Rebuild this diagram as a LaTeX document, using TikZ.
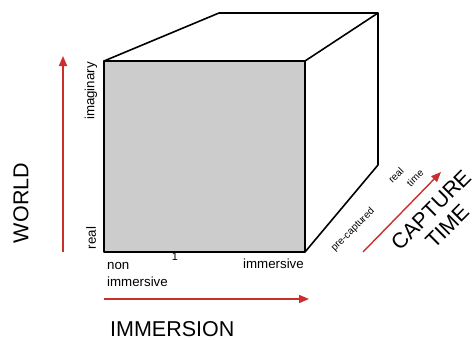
\documentclass[tikz,border=0pt]{standalone}
\usepackage{fontspec}
\setmainfont{Liberation Sans}
\usetikzlibrary{arrows.meta}
\definecolor{axisred}{RGB}{204,45,45}
\definecolor{facegray}{RGB}{204,204,204}
\begin{document}
\begin{tikzpicture}[x=1pt,y=-1pt,
  edge/.style={line width=1.6pt, line join=round},
  axis/.style={draw=axisred, line width=1.4pt, -{Triangle[length=10pt,width=8pt]}},
  big/.style={font=\fontsize{21.5}{23}\selectfont, inner sep=0pt},
  small/.style={font=\fontsize{13.3}{15}\selectfont, inner sep=0pt},
  tiny/.style={font=\fontsize{10}{11}\selectfont, inner sep=0pt}]
\useasboundingbox (0,0) rectangle (475,340);
% cube corners
\coordinate (A) at (104,61);
\coordinate (B) at (305,61);
\coordinate (C) at (305,252);
\coordinate (D) at (104,252);
\coordinate (E) at (219,13);
\coordinate (F) at (378,13);
\coordinate (G) at (378,165);
\fill[white] (A) -- (E) -- (F) -- (G) -- (C) -- (B) -- cycle;
\draw[edge, fill=facegray] (A) rectangle (C);
\draw[edge] (A) -- (E) -- (F) -- (B);
\draw[edge] (F) -- (G) -- (C);
% axes
\coordinate (w0) at (63,252);
\coordinate (w1) at (63,56);
\draw[axis] (w0) -- (w1);
\coordinate (i0) at (104,299);
\coordinate (i1) at (309,299);
\draw[axis] (i0) -- (i1);
\coordinate (c0) at (363,252);
\coordinate (c1) at (441,172);
\draw[axis] (c0) -- (c1);
% labels
\node[big, rotate=90] (world) at (21,203) {WORLD};
\node[big, anchor=west] (immersion) at (110,329) {IMMERSION};
\node[big, rotate=45, align=center, font=\fontsize{21.5}{23}\selectfont] (capture) at (439,218) {CAPTURE\\TIME};
\node[small, rotate=90] (imag) at (91,91) {imaginary};
\node[small, rotate=90] (realw) at (91,238) {real};
\node[small, anchor=west, align=left, font=\fontsize{13.3}{17}\selectfont] (non) at (107,274) {non\\immersive};
\node[small, anchor=east] (imm) at (304,264) {immersive};
\node[font=\rmfamily\fontsize{11}{12}\selectfont, inner sep=0pt] (one) at (175,257) {1};
\node[tiny, rotate=45] (pre) at (353,230) {pre-captured};
\node[tiny, rotate=45] (realt) at (396,175) {real};
\node[tiny, rotate=45] (timet) at (415,178) {time};
\end{tikzpicture}
\end{document}
